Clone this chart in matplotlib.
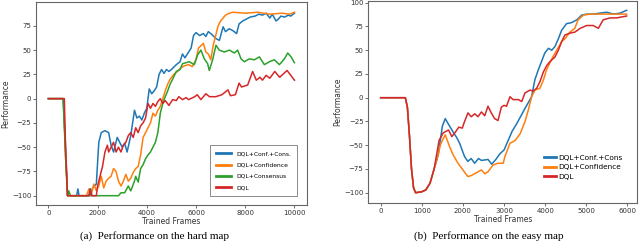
import matplotlib
matplotlib.use("Agg")
import matplotlib.pyplot as plt

# ---- hard map (a) ----
hard_conf_cons_x = [0, 600, 700, 780, 1150, 1200, 1250, 1700, 1800, 1950, 2050, 2150, 2300, 2450, 2550,
                    2650, 2800, 2900, 3000, 3100, 3200, 3350, 3500, 3600, 3700, 3800, 3900, 4000, 4100,
                    4200, 4300, 4400, 4500, 4600, 4700, 4800, 4900, 5000, 5200, 5350, 5450, 5550, 5700,
                    5800, 5900, 6000, 6150, 6300, 6400, 6500, 6650, 6800, 6950, 7100, 7200, 7350, 7500,
                    7650, 7750, 7900, 8050, 8200, 8400, 8550, 8700, 8850, 9000, 9100, 9250, 9350, 9450,
                    9600, 9750, 9850, 10000]
hard_conf_cons_y = [0, 0, -50, -100, -100, -93, -100, -100, -92, -88, -45, -35, -33, -35, -48,
                    -55, -40, -45, -50, -46, -55, -38, -12, -20, -18, -22, -15, -10, 10,
                    5, 8, 12, 25, 30, 26, 30, 28, 30, 35, 38, 46, 42, 48,
                    52, 65, 68, 65, 67, 64, 69, 66, 62, 60, 74, 69, 72, 70,
                    67, 77, 80, 82, 84, 85, 87, 86, 88, 83, 87, 80, 82, 85,
                    84, 86, 85, 88]

hard_conf_x = [0, 620, 700, 780, 1550, 1650, 1750, 1850, 1950, 2050, 2150, 2250, 2350, 2450, 2550, 2650,
               2750, 2850, 2950, 3050, 3150, 3250, 3350, 3450, 3550, 3650, 3750, 3850, 3950, 4050,
               4150, 4250, 4350, 4450, 4550, 4650, 4750, 4850, 4950, 5100, 5250, 5400, 5550, 5700,
               5850, 6000, 6100, 6300, 6400, 6500, 6600, 6700, 6800, 6900, 7000, 7100, 7200, 7350,
               7500, 8000, 8500, 9000, 9500, 9800, 10000]
hard_conf_y = [0, 0, -60, -100, -100, -93, -98, -88, -95, -90, -80, -92, -85, -82, -80, -72,
               -75, -85, -90, -85, -78, -85, -82, -76, -72, -70, -58, -40, -35, -30,
               -25, -15, -18, -12, -8, 0, 8, 15, 20, 25, 28, 32, 34, 35,
               33, 40, 52, 57, 48, 46, 40, 55, 65, 75, 80, 83, 86, 88,
               89, 88, 89, 87, 88, 87, 89]

hard_cons_x = [0, 600, 700, 780, 830, 900, 1650, 1700, 1780, 2850, 2950, 3100, 3250, 3350, 3500, 3550,
               3650, 3750, 3850, 3950, 4050, 4150, 4250, 4350, 4450, 4550, 4650, 4750, 4850, 4950,
               5050, 5200, 5350, 5455, 5726, 5930, 6065, 6200, 6337, 6472, 6540, 6676, 6811, 6947,
               7150, 7354, 7557, 7693, 7829, 7964, 8168, 8371, 8575, 8778, 8982, 9185, 9388, 9592,
               9728, 9863, 10000]
hard_cons_y = [0, 0, -60, -100, -95, -100, -100, -93, -100, -100, -97, -97, -90, -95, -85, -80,
               -86, -72, -68, -62, -58, -55, -50, -45, -35, -15, -5, 2, 8, 15,
               20, 28, 30, 36, 38, 35, 45, 50, 41, 36, 29, 40, 55, 50,
               48, 50, 47, 50, 41, 38, 41, 40, 43, 35, 38, 40, 35, 41,
               47, 43, 37]

hard_dql_x = [0, 650, 700, 780, 1650, 1700, 1750, 1950, 2000, 2100, 2200, 2300, 2400, 2450, 2550, 2650,
              2750, 2850, 2950, 3050, 3150, 3250, 3350, 3450, 3550, 3650, 3750, 3850, 3950, 4050,
              4150, 4250, 4350, 4450, 4550, 4650, 4750, 4900, 5050, 5200, 5300, 5450, 5600, 5700,
              5950, 6050, 6200, 6400, 6550, 6800, 7050, 7300, 7400, 7600, 7700, 7750, 7850, 8100,
              8300, 8450, 8600, 8700, 8850, 9000, 9200, 9400, 9700, 9850, 10000]
hard_dql_y = [0, 0, -50, -100, -100, -93, -100, -100, -90, -80, -70, -55, -48, -55, -50, -45,
              -55, -50, -55, -48, -45, -38, -35, -40, -30, -35, -28, -25, -20, -5,
              -10, -5, -8, -3, 0, -5, -2, -7, -1, -2, 2, -1, 1, -1,
              2, 4, -1, 5, 2, 2, 4, 9, 3, 4, 12, 16, 12, 14,
              28, 19, 22, 19, 24, 21, 28, 22, 29, 24, 19]

# ---- easy map (b) ----
easy_conf_cons_x = [0, 600, 650, 700, 750, 800, 850, 1000, 1100, 1200, 1300, 1400, 1450, 1500, 1570,
                    1650, 1760, 1850, 1920, 2040, 2120, 2200, 2285, 2380, 2450, 2610, 2700, 2800, 2900,
                    3000, 3100, 3200, 3300, 3400, 3500, 3670, 3750, 3830, 3910, 3990, 4080, 4160, 4240,
                    4320, 4400, 4520, 4640, 4770, 4890, 5010, 5170, 5330, 5500, 5660, 5820, 5980]
easy_conf_cons_y = [0, 0, -10, -40, -75, -95, -100, -99, -97, -90, -75, -60, -45, -30, -22,
                    -28, -36, -42, -48, -62, -67, -64, -69, -64, -66, -65, -70, -65, -59,
                    -55, -45, -35, -28, -20, -12, 1, 19, 29, 38, 47, 52, 50, 54,
                    62, 71, 78, 79, 82, 87, 88, 88, 89, 90, 88, 89, 92]

easy_conf_x = [0, 600, 650, 700, 750, 800, 850, 1000, 1100, 1200, 1300, 1400, 1450, 1500, 1570,
               1680, 1760, 1880, 2000, 2120, 2200, 2285, 2450, 2530, 2610, 2730, 2850, 2980, 3020,
               3144, 3270, 3390, 3510, 3590, 3670, 3750, 3874, 3960, 4030, 4150, 4280, 4400, 4480,
               4600, 4720, 4800, 4930, 5100, 5400, 5700, 5980]
easy_conf_y = [0, 0, -10, -40, -75, -95, -100, -99, -97, -90, -75, -60, -50, -45, -39,
               -52, -60, -69, -76, -83, -82, -80, -76, -80, -78, -71, -69, -69, -62,
               -48, -45, -38, -25, -13, 1, 8, 10, 19, 29, 40, 50, 59, 62,
               69, 73, 82, 87, 88, 88, 88, 88]

easy_dql_x = [0, 600, 650, 700, 750, 800, 850, 1000, 1100, 1200, 1300, 1420, 1520, 1652, 1730, 1820,
              1900, 1984, 2040, 2123, 2200, 2290, 2366, 2450, 2530, 2609, 2690, 2770, 2853, 2934,
              3000, 3060, 3144, 3220, 3350, 3430, 3509, 3630, 3710, 3793, 3874, 3955, 4040, 4117,
              4240, 4320, 4400, 4480, 4604, 4720, 4850, 5009, 5170, 5293, 5410, 5577, 5740, 5860,
              5980]
easy_dql_y = [0, 0, -10, -40, -75, -95, -100, -99, -97, -90, -75, -45, -37, -34, -41, -36,
              -31, -32, -25, -16, -20, -17, -20, -15, -19, -9, -16, -22, -24, -10,
              -8, -9, 1, -2, -2, -4, 5, 8, 7, 10, 17, 27, 34, 38,
              43, 50, 59, 66, 68, 69, 73, 76, 76, 73, 82, 84, 84, 85,
              86]

hard_series = [
    ("DQL+Conf.+Cons.", hard_conf_cons_x, hard_conf_cons_y, "#1f77b4"),
    ("DQL+Confidence", hard_conf_x, hard_conf_y, "#ff7f0e"),
    ("DQL+Consensus", hard_cons_x, hard_cons_y, "#2ca02c"),
    ("DQL", hard_dql_x, hard_dql_y, "#d62728"),
]
easy_series = [
    ("DQL+Conf.+Cons", easy_conf_cons_x, easy_conf_cons_y, "#1f77b4"),
    ("DQL+Confidence", easy_conf_x, easy_conf_y, "#ff7f0e"),
    ("DQL", easy_dql_x, easy_dql_y, "#d62728"),
]

fig = plt.figure(figsize=(6.4, 2.49), dpi=100)
ax1 = fig.add_axes([0.0563, 0.177, 0.4230, 0.816])
ax2 = fig.add_axes([0.5755, 0.186, 0.4203, 0.810])

for name, xs, ys, c in hard_series:
    ax1.plot(xs, ys, color=c, lw=1.1, label=name)
for name, xs, ys, c in easy_series:
    ax2.plot(xs, ys, color=c, lw=1.1, label=name)

ax1.set_xlim(-500, 10500)
ax1.set_ylim(-109.5, 99.8)
ax1.set_xticks(range(0, 10001, 2000))
ax1.set_yticks(range(-100, 76, 25))
ax2.set_xlim(-300, 6240)
ax2.set_ylim(-110.5, 101.8)
ax2.set_xticks(range(0, 6001, 1000))
ax2.set_yticks(range(-100, 101, 25))

for ax in (ax1, ax2):
    ax.tick_params(labelsize=5, length=2, width=0.5, pad=1.5, colors="#333333")
    for s in ax.spines.values():
        s.set_color("#666666")
        s.set_linewidth(0.8)
    ax.set_xlabel("Trained Frames", fontsize=5.5, labelpad=1, color="#333333")
    ax.set_ylabel("Performance", fontsize=5.5, labelpad=1, color="#333333")

leg1 = ax1.legend(loc="lower right", bbox_to_anchor=(0.964, 0.044), borderaxespad=0,
                  fontsize=4.3, handlelength=2.5, fancybox=False, edgecolor="#555555",
                  borderpad=1.0, labelspacing=1.0)
leg1.get_frame().set_linewidth(0.6)
for line in leg1.get_lines():
    line.set_linewidth(2)
leg2 = ax2.legend(loc="lower right", bbox_to_anchor=(0.955, 0.1), borderaxespad=0,
                  fontsize=5.3, handlelength=1.6, frameon=False, labelspacing=0.45,
                  handletextpad=0.3)
for line in leg2.get_lines():
    line.set_linewidth(2)

fig.text(0.241, 0.052, "(a)  Performance on the hard map", ha="center", va="center",
         family="Liberation Serif", fontsize=8)
fig.text(0.763, 0.052, "(b)  Performance on the easy map", ha="center", va="center",
         family="Liberation Serif", fontsize=8)

fig.savefig("out.png", dpi=100)
